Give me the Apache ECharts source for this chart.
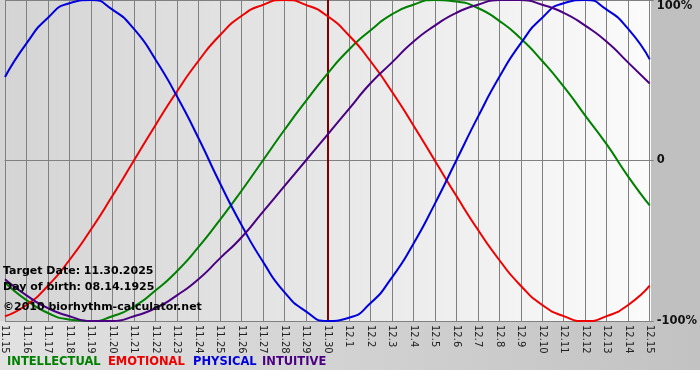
<!DOCTYPE html>
<html>
<head>
<meta charset="utf-8">
<script src="https://cdn.jsdelivr.net/npm/echarts@6/dist/echarts.min.js"></script>
<style>html,body{margin:0;padding:0;background:#fff}#c{width:700px;height:380px}</style>
</head>
<body>
<div id="c"></div>
<script>
var days = ['11.15','11.16','11.17','11.18','11.19','11.20','11.21','11.22','11.23','11.24','11.25','11.26','11.27','11.28','11.29','11.30','12.1','12.2','12.3','12.4','12.5','12.6','12.7','12.8','12.9','12.10','12.11','12.12','12.13','12.14','12.15'];
var intellectual = [-76,-87,-95,-99,-100,-97,-91,-81,-69,-54,-37,-19,0,19,37,54,69,81,91,97,100,99,95,87,76,62,46,28,10,-10,-28];
var emotional = [-97,-90,-78,-62,-43,-22,0,22,43,62,78,90,97,100,97,90,78,62,43,22,0,-22,-43,-62,-78,-90,-97,-100,-97,-90,-78];
var physical = [52,73,89,98,100,94,82,63,40,14,-14,-40,-63,-82,-94,-100,-98,-89,-73,-52,-27,0,27,52,73,89,98,100,94,82,63];
var intuitive = [-74,-84,-92,-97,-100,-100,-97,-92,-84,-74,-61,-48,-32,-16,0,16,32,48,61,74,84,92,97,100,100,97,92,84,74,61,48];
var targetDay = '11.30';
var yTicks = {'100':'100%','0':'0','-100':'-100%'};

var chart = echarts.init(document.getElementById('c'), null, {renderer:'canvas'});
var font = 'Verdana, "DejaVu Sans", sans-serif';
function line(name, data, color) {
  return {name:name, type:'line', data:data, smooth:0.6, showSymbol:false, symbol:'none',
    lineStyle:{color:color, width:2}, itemStyle:{color:color}, z:3};
}
var s = [
  line('INTELLECTUAL', intellectual, '#008000'),
  line('EMOTIONAL', emotional, '#ee0000'),
  line('PHYSICAL', physical, '#0000dd'),
  line('INTUITIVE', intuitive, '#4b0082')
];
s[0].markLine = {silent:true, symbol:'none', label:{show:false},
  lineStyle:{color:'#800000', width:2, type:'solid'}, data:[{xAxis:targetDay}], z:2};
var lf = 'bold 11.5px ' + font;

chart.setOption({
  animation:false,
  backgroundColor:'#ffffff',
  graphic:[
    {type:'rect', z:-20, shape:{x:0,y:0,width:700,height:370},
     style:{fill:new echarts.graphic.LinearGradient(0,0,1,0,[{offset:0,color:'#e2e2e2'},{offset:1,color:'#c2c2c2'}])}},
    {type:'rect', z:-19, shape:{x:651,y:0,width:49,height:321}, style:{fill:'#c0c0c0'}},
    {type:'rect', z:-18, shape:{x:0,y:0,width:651,height:321},
     style:{fill:new echarts.graphic.LinearGradient(0,0,1,0,[{offset:0,color:'#d4d4d4'},{offset:1,color:'#fbfbfb'}])}},
    {type:'text', z:10, left:3, top:266, style:{text:'Target Date: 11.30.2025', font:'bold 11px '+font, fill:'#000'}},
    {type:'text', z:10, left:3, top:282, style:{text:'Day of birth: 08.14.1925', font:'bold 11px '+font, fill:'#000'}},
    {type:'text', z:10, left:3, top:302, style:{text:'\u00a92010 biorhythm-calculator.net', font:'bold 11px '+font, fill:'#000'}},
    {type:'text', z:10, left:7, top:356, style:{text:'INTELLECTUAL', font:lf, fill:'#008000'}},
    {type:'text', z:10, left:108, top:356, style:{text:'EMOTIONAL', font:lf, fill:'#ee0000'}},
    {type:'text', z:10, left:193, top:356, style:{text:'PHYSICAL', font:lf, fill:'#0000dd'}},
    {type:'text', z:10, left:262, top:356, style:{text:'INTUITIVE', font:lf, fill:'#4b0082'}}
  ],
  grid:{left:0, right:49, top:0, bottom:59, containLabel:false},
  xAxis:{type:'category', data:days, boundaryGap:false,
    axisLine:{show:true, lineStyle:{color:'#808080', width:1}},
    axisTick:{show:true, length:4, interval:0, lineStyle:{color:'#808080'}},
    axisLabel:{interval:0, rotate:-90, fontSize:10, color:'#222', fontFamily:font, margin:4},
    splitLine:{show:true, interval:0, lineStyle:{color:'#808080', width:1}}
  },
  yAxis:{type:'value', position:'right', min:-100, max:100, interval:100,
    axisLine:{show:false}, axisTick:{show:true, length:4, lineStyle:{color:'#808080'}},
    axisLabel:{fontSize:11.5, fontWeight:'bold', color:'#111', fontFamily:font, margin:7,
      verticalAlignMaxLabel:'top',
      formatter:function(v){return yTicks[String(v)];}},
    splitLine:{show:true, lineStyle:{color:'#808080', width:1}}
  },
  series:s
});
</script>
</body>
</html>
